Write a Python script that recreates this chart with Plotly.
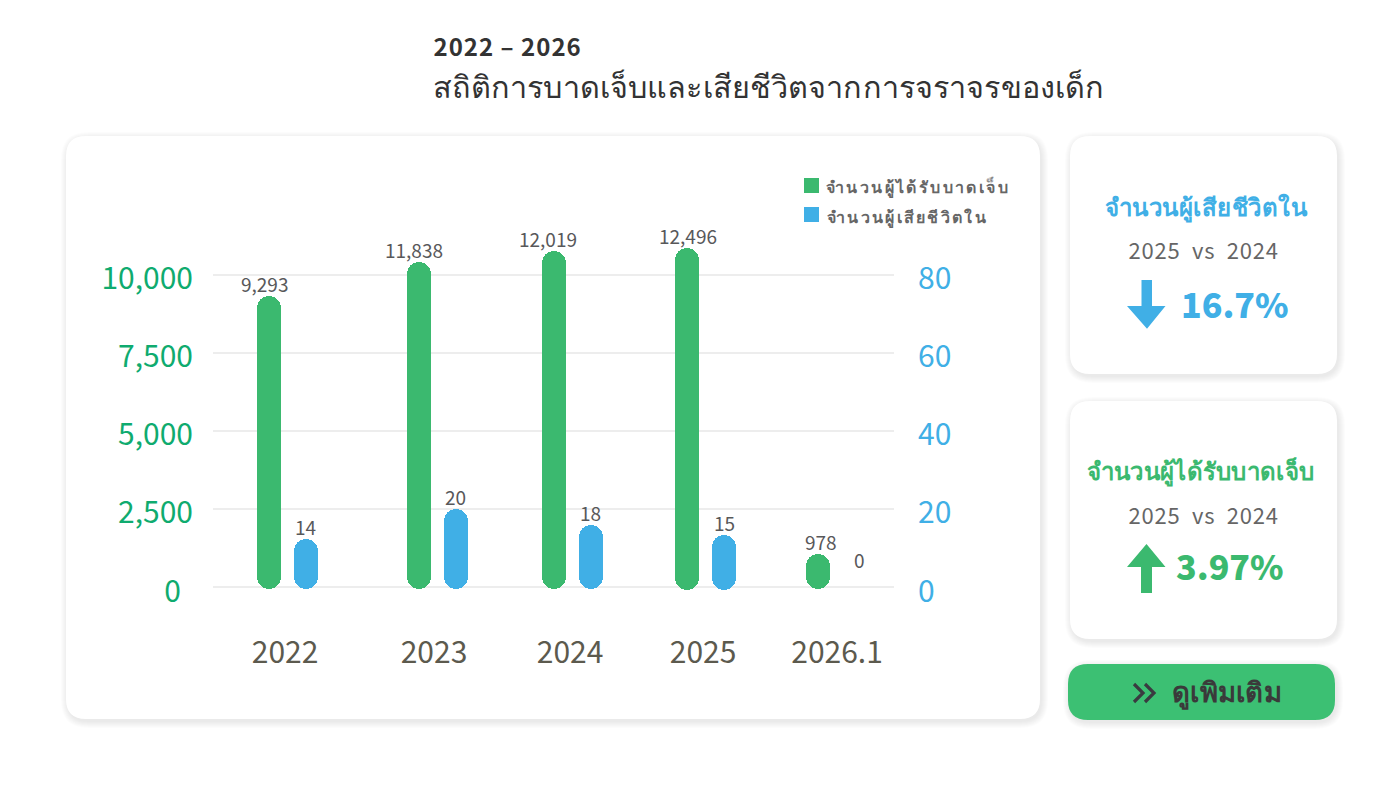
import json
import plotly.graph_objects as go

# chart values
years = ["2022", "2023", "2024", "2025", "2026.1"]
injured_labels = ["9,293", "11,838", "12,019", "12,496", "978"]
deaths_labels = ["14", "20", "18", "15", "0"]
# bar heights as drawn in the picture, read against each axis (they do not follow the labels exactly)
injured_heights = [9350, 10430, 10780, 10875, 1070]
deaths_heights = [12.3, 20.1, 16.1, 13.5, 0]
injured_floor = [-45, -45, -45, -77, -45]
deaths_floor = [-0.36, -0.36, -0.36, -0.6, -0.36]

left_ticks = [0, 2500, 5000, 7500, 10000]
left_tick_text = ["0", "2,500", "5,000", "7,500", "10,000"]
right_ticks = [0, 20, 40, 60, 80]

# the years are not evenly spaced in the original
year_slots = [0, 1, 1.9, 2.787, 3.66]
label_slots = [0.107, 1.1, 2.007, 2.894, 3.787]

GREEN = "#3BB96F"
TICK_GREEN = "#0FAB6F"
BLUE = "#40AFE6"
BTN_GREEN = "#3CC073"
FONT = "Noto Sans CJK TC, Noto Sans, sans-serif"
W, H = 1400, 790

INJURED_NAME = "จำนวนผู้ได้รับบาดเจ็บ"
DEATHS_NAME = "จำนวนผู้เสียชีวิตใน"
VS_TEXT = "2025\u00a0 vs\u00a0 2024"


def px(x):
    return x / W


def py(y):
    return 1 - y / H


def round_rect(x0, y0, x1, y1, r):
    a, b, c, d = px(x0), py(y0), px(x1), py(y1)
    rx, ry = r / W, r / H
    return (f"M{a + rx},{b} L{c - rx},{b} Q{c},{b} {c},{b - ry} L{c},{d + ry} Q{c},{d} {c - rx},{d} "
            f"L{a + rx},{d} Q{a},{d} {a},{d + ry} L{a},{b - ry} Q{a},{b} {a + rx},{b} Z")


def poly(points):
    return "M" + " L".join(f"{px(x)},{py(y)}" for x, y in points) + " Z"


shapes = []


def add_path(path, fill):
    shapes.append(dict(type="path", xref="paper", yref="paper", path=path, fillcolor=fill,
                       line=dict(width=0), layer="below"))


def card(x0, y0, x1, y1, r, fill="#FFFFFF"):
    # soft shadow, a few wide translucent layers
    for i in range(7, 0, -1):
        add_path(round_rect(x0 - i + 2, y0 - i + 3, x1 + i + 1, y1 + i + 2, r + i), "rgba(0,0,0,0.012)")
    add_path(round_rect(x0, y0, x1, y1, r), fill)


card(66, 136, 1040, 719, 20)
card(1070, 136, 1337, 374, 20)
card(1070, 401, 1337, 639, 20)
card(1068, 664, 1335, 720, 20, BTN_GREEN)

# legend swatches
add_path(poly([(804, 178), (819, 178), (819, 193), (804, 193)]), GREEN)
add_path(poly([(804, 207), (819, 207), (819, 222), (804, 222)]), BLUE)

# arrows on the cards
add_path(poly([(1141.5, 280), (1152, 280), (1152, 306), (1165.5, 306), (1147, 328.7), (1127, 306), (1141.5, 306)]), BLUE)
add_path(poly([(1141, 593), (1152, 593), (1152, 567), (1165.5, 567), (1146.5, 544), (1127, 567), (1141, 567)]), GREEN)

# chevrons on the button
for dx in (0, 11):
    shapes.append(dict(type="path", xref="paper", yref="paper", layer="above",
                       path=f"M{px(1134 + dx)},{py(684)} L{px(1143 + dx)},{py(693)} L{px(1134 + dx)},{py(702)}",
                       line=dict(color="#3A3A40", width=3.2)))


def pill(xs, heights, floors, color, axis, width):
    # a bar with its own base gets both ends rounded
    keep = [i for i, h in enumerate(heights) if h > 0]
    return go.Bar(x=[xs[i] for i in keep], y=[heights[i] - floors[i] for i in keep],
                  base=[floors[i] for i in keep], width=width, yaxis=axis,
                  marker=dict(color=color, cornerradius=12, line=dict(width=0)), showlegend=False)


blue_offset = 0.2467
blue_slots = [s + blue_offset for s in year_slots]
bar_w = 0.158

fig = go.Figure()
fig.add_trace(pill(year_slots, injured_heights, injured_floor, GREEN, "y", bar_w))
fig.add_trace(pill(blue_slots, deaths_heights, deaths_floor, BLUE, "y2", bar_w))

annotations = []
tracking = {}


def note(x, y, text, size, color, weight=400, track=0):
    if track:
        tracking[len(annotations)] = track
    annotations.append(dict(x=px(x), y=py(y), xref="paper", yref="paper", text=text, showarrow=False,
                            xanchor="center", yanchor="middle",
                            font=dict(family=FONT, size=size, color=color, weight=weight)))


# value labels sit slightly off the bar centres in the original
injured_nudge = [-4.5, -4.7, -6, 1, 2.5]
deaths_nudge = [-1, -1, -1, 0, 4.5]
for x, h, lab, n in zip(year_slots, injured_heights, injured_labels, injured_nudge):
    annotations.append(dict(x=x, y=h, xref="x", yref="y", text=lab, showarrow=False, xshift=n, yshift=12.5,
                            font=dict(family=FONT, size=19, color="#58585A")))
for x, h, lab, n in zip(blue_slots, deaths_heights, deaths_labels, deaths_nudge):
    annotations.append(dict(x=x, y=h, xref="x", yref="y2", text=lab, showarrow=False, xshift=n,
                            yshift=28 if h == 0 else 12.5,
                            font=dict(family=FONT, size=19, color="#58585A")))

note(507.5, 46, "2022 – 2026", 24, "#333333", 700, track=1.0)
note(768, 85, "สถิติการบาดเจ็บและเสียชีวิตจากการจราจรของเด็ก", 30.6, "#333333", track=0.12)

note(918.5, 186, INJURED_NAME, 16, "#666666", 700, track=2.4)
note(907, 216, DEATHS_NAME, 16, "#666666", 700, track=2.3)

note(1206, 205, DEATHS_NAME, 24, BLUE, 700, track=0.5)
note(1203, 249, VS_TEXT, 22, "#666666", track=0.8)
note(1234.5, 303, "16.7%", 34, BLUE, 900)

note(1200.5, 469, INJURED_NAME, 24, GREEN, 700, track=0.3)
note(1203, 514, VS_TEXT, 22, "#666666", track=0.8)
note(1229.5, 565, "3.97%", 34, GREEN, 900)

note(1226.5, 690, "ดูเพิมเติม", 27.5, "#3A3A3A", 700, track=0.3)

fig.update_layout(
    width=W, height=H, autosize=False,
    margin=dict(l=0, r=0, t=0, b=0, autoexpand=False),
    paper_bgcolor="#FFFFFF", plot_bgcolor="rgba(0,0,0,0)",
    barmode="overlay", bargap=0,
    font=dict(family=FONT),
    showlegend=False,
    shapes=shapes,
    annotations=annotations,
    xaxis=dict(domain=[px(213), px(894)], range=[-0.3733, 4.1667], showgrid=False, zeroline=False,
               showline=False, ticks="", tickmode="array", ticklabelstandoff=32,
               tickvals=label_slots, ticktext=years,
               tickfont=dict(family=FONT, size=30, color="#5C5A4E")),
    yaxis=dict(domain=[py(600), py(230)], range=[-407, 11452], tickmode="array", tickvals=left_ticks,
               ticktext=left_tick_text, showgrid=True, gridcolor="#EDEDED", gridwidth=1.5, zeroline=False,
               showline=False, ticks="", ticklabelstandoff=19,
               tickfont=dict(family=FONT, size=30, color=TICK_GREEN)),
    yaxis2=dict(domain=[py(600), py(230)], range=[-3.256, 91.6], overlaying="y", side="right", anchor="x",
                tickmode="array", tickvals=right_ticks, showgrid=False, zeroline=False, showline=False,
                ticks="", ticklabelstandoff=23, tickfont=dict(family=FONT, size=30, color=BLUE)),
)

# plotly has no letter spacing or vertical tick label offset, both are set on the page afterwards
script = """
document.body.style.margin = '0';
var tracking = %s;
Object.keys(tracking).forEach(function (i) {
    var t = document.querySelector('.annotation[data-index="' + i + '"] .annotation-text');
    if (t) { t.style.letterSpacing = tracking[i] + 'px'; }
});
function nudge(t, dx, dy) {
    t.setAttribute('transform', (t.getAttribute('transform') || '') + ' translate(' + dx + ',' + dy + ')');
}
document.querySelectorAll('.ytick text, .y2tick text').forEach(function (t) {
    var left = t.parentNode.classList.contains('ytick');
    if (t.textContent === '0') { nudge(t, left ? -12 : 0, 4.5); } else { nudge(t, 0, 3); }
});
""" % json.dumps(tracking)
fig.write_html("out.html", config=dict(displayModeBar=False), post_script=script)
